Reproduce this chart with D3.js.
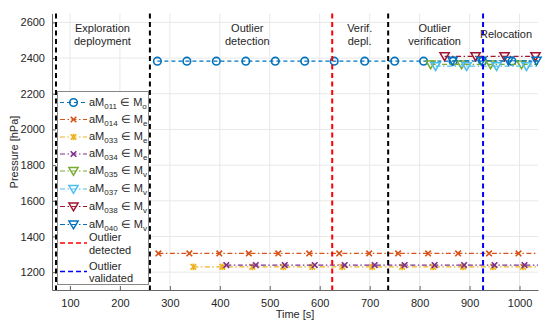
<!DOCTYPE html>
<html>
<head>
<meta charset="utf-8">
<script src="https://cdn.jsdelivr.net/npm/d3@7"></script>
<style>
  body { margin: 0; background: #fff; }
  svg { font-family: "Liberation Sans", Arial, sans-serif; }
</style>
</head>
<body>
<div id="chart"></div>
<script>
// series data: times [s] and pressures [hPa]
const t011 = [275, 334, 393, 452, 511, 570, 629, 690, 750, 808, 867, 926, 985, 1037];
const p011 = [2383, 2383, 2383, 2383, 2383, 2383, 2383, 2383, 2383, 2383, 2383, 2383, 2383, 2383];
const t014 = [277, 339, 399, 458, 517, 579, 639, 699, 757, 817, 877, 939, 998, 1037];
const p014 = [1305, 1305, 1305, 1305, 1305, 1305, 1305, 1305, 1305, 1305, 1305, 1305, 1305, 1305];
const t033 = [347, 405, 465, 527, 585, 645, 705, 765, 827, 887, 947, 1007, 1037];
const p033 = [1230, 1230, 1230, 1230, 1230, 1230, 1230, 1230, 1230, 1230, 1230, 1230, 1230];
const t034 = [413, 472, 530, 590, 650, 710, 770, 830, 889, 950, 1010, 1037];
const p034 = [1240, 1240, 1240, 1240, 1240, 1240, 1240, 1240, 1240, 1240, 1240, 1240];
const t035 = [822, 884, 942, 1004, 1037];
const p035 = [2365, 2365, 2365, 2365, 2365];
const t037 = [832, 894, 954, 1014, 1037];
const p037 = [2355, 2355, 2355, 2355, 2355];
const t038 = [850, 912, 970, 1032, 1037];
const p038 = [2410, 2410, 2410, 2410, 2410];
const t040 = [866, 924, 978, 1034, 1037];
const p040 = [2385, 2385, 2385, 2385, 2385];

const xTicks = [100, 200, 300, 400, 500, 600, 700, 800, 900, 1000];
const yTicks = [1200, 1400, 1600, 1800, 2000, 2200, 2400, 2600];

// phase boundaries
const phaseLines = [
  { t: 72, color: '#000' },
  { t: 260, color: '#000' },
  { t: 625, color: '#ff0000' },
  { t: 737, color: '#000' },
  { t: 927, color: '#0000ff' }
];
const phaseLabels = [
  { t: 165, lines: ['Exploration', 'deployment'] },
  { t: 455, lines: ['Outlier', 'detection'] },
  { t: 680, lines: ['Verif.', 'depl.'] },
  { t: 830, lines: ['Outlier', 'verification'] },
  { t: 973, lines: ['Relocation'] }
];

const series = [
  { id: '011', set: 'o', t: t011, p: p011, color: '#0072BD', marker: 'circle', dash: '4,3' },
  { id: '014', set: 'e', t: t014, p: p014, color: '#D95319', marker: 'x' },
  { id: '033', set: 'e', t: t033, p: p033, color: '#EDB120', marker: 'star' },
  { id: '034', set: 'e', t: t034, p: p034, color: '#7E2F8E', marker: 'x' },
  { id: '035', set: 'v', t: t035, p: p035, color: '#77AC30', marker: 'tri' },
  { id: '037', set: 'v', t: t037, p: p037, color: '#4DBEEE', marker: 'tri' },
  { id: '038', set: 'v', t: t038, p: p038, color: '#A2142F', marker: 'tri' },
  { id: '040', set: 'v', t: t040, p: p040, color: '#0072BD', marker: 'tri' }
];

const W = 550, H = 324;
const svg = d3.select('#chart').append('svg').attr('width', W).attr('height', H);

const x = d3.scaleLinear().domain([64, 1037]).range([52, 538]);
const y = d3.scaleLinear().domain([1100, 2650]).range([290, 13.5]);

const txt = '#262626';

// grid
svg.append('g').selectAll('line').data(xTicks).join('line')
  .attr('x1', d => x(d)).attr('x2', d => x(d))
  .attr('y1', y.range()[1]).attr('y2', y.range()[0])
  .attr('stroke', '#e8e8e8');
svg.append('g').selectAll('line').data(yTicks).join('line')
  .attr('x1', x.range()[0]).attr('x2', x.range()[1])
  .attr('y1', d => y(d)).attr('y2', d => y(d))
  .attr('stroke', '#e8e8e8');

// axes
const xAxis = d3.axisBottom(x).tickValues(xTicks).tickFormat(d3.format('d'))
  .tickSizeInner(-4).tickSizeOuter(0).tickPadding(9);
const yAxis = d3.axisLeft(y).tickValues(yTicks).tickFormat(d3.format('d'))
  .tickSizeInner(-4).tickSizeOuter(0).tickPadding(7);
const gx = svg.append('g').attr('transform', `translate(0,${y.range()[0]})`).call(xAxis);
const gy = svg.append('g').attr('transform', `translate(${x.range()[0]},0)`).call(yAxis);
[gx, gy].forEach(g => {
  g.select('.domain').attr('stroke', '#666');
  g.selectAll('.tick line').attr('stroke', '#666');
  g.selectAll('.tick text').attr('fill', txt).style('font-size', '11px')
    .style('font-family', '"Liberation Sans", Arial, sans-serif');
});

svg.append('text').attr('x', 295).attr('y', 318).attr('text-anchor', 'middle')
  .attr('fill', txt).style('font-size', '11px').text('Time [s]');
svg.append('text').attr('transform', 'translate(18,152) rotate(-90)').attr('text-anchor', 'middle')
  .attr('fill', txt).style('font-size', '11px').text('Pressure [hPa]');

// markers
function drawMarker(g, m, cx, cy, color) {
  if (m === 'circle') {
    g.append('circle').attr('cx', cx).attr('cy', cy).attr('r', 3.8)
      .attr('fill', 'none').attr('stroke', color).attr('stroke-width', 1.6);
  } else if (m === 'tri') {
    const s = 4.6;
    g.append('path')
      .attr('d', `M${cx - s},${cy - s * 0.75}L${cx + s},${cy - s * 0.75}L${cx},${cy + s * 0.95}Z`)
      .attr('fill', 'none').attr('stroke', color).attr('stroke-width', 1.5);
  } else {
    const s = 2.8;
    let d = `M${cx - s},${cy - s}L${cx + s},${cy + s}M${cx - s},${cy + s}L${cx + s},${cy - s}`;
    if (m === 'star') d += `M${cx},${cy - s * 1.2}L${cx},${cy + s * 1.2}`;
    g.append('path').attr('d', d).attr('fill', 'none').attr('stroke', color).attr('stroke-width', 1.6);
  }
}

const line = d3.line().x(d => x(d[0])).y(d => y(d[1]));
const plot = svg.append('g');
series.forEach(s => {
  const pts = s.t.map((t, i) => [t, s.p[i]]);
  plot.append('path').datum(pts).attr('d', line)
    .attr('fill', 'none').attr('stroke', s.color).attr('stroke-width', 1.2)
    .attr('stroke-dasharray', s.dash || '5,2.5,1.5,2.5');
  const mg = plot.append('g');
  // last point marks the line end at the axis limit, no marker there
  pts.slice(0, -1).forEach(d => drawMarker(mg, s.marker, x(d[0]), y(d[1]), s.color));
});

// phase boundary lines
svg.append('g').selectAll('line').data(phaseLines).join('line')
  .attr('x1', d => x(d.t)).attr('x2', d => x(d.t))
  .attr('y1', y.range()[1]).attr('y2', y.range()[0])
  .attr('stroke', d => d.color).attr('stroke-width', 2)
  .attr('stroke-dasharray', '5,3.5');

// phase labels
phaseLabels.forEach(p => {
  const t = svg.append('text').attr('text-anchor', 'middle').attr('fill', txt).style('font-size', '11px');
  const y0 = p.lines.length === 1 ? 38 : 32;
  p.lines.forEach((l, i) => t.append('tspan').attr('x', x(p.t)).attr('y', y0 + i * 13).text(l));
});

// legend
const lg = svg.append('g');
lg.append('rect').attr('x', 57.5).attr('y', 91.5).attr('width', 91).attr('height', 193)
  .attr('fill', '#fff').attr('stroke', '#888').attr('stroke-width', 1);
const rowY = [102.5, 119.5, 137, 154, 171, 189, 206.5, 224.5];
series.forEach((s, i) => {
  const ry = rowY[i];
  lg.append('line').attr('x1', 60).attr('x2', 87).attr('y1', ry).attr('y2', ry)
    .attr('stroke', s.color).attr('stroke-width', 1.2)
    .attr('stroke-dasharray', s.dash || '5,2.5,1.5,2.5');
  drawMarker(lg, s.marker, 73.5, ry, s.color);
  const t = lg.append('text').attr('x', 89).attr('y', ry + 3).attr('fill', txt).style('font-size', '11px');
  t.append('tspan').text('aM');
  t.append('tspan').attr('dy', 3).style('font-size', '8px').text(s.id);
  t.append('tspan').attr('dy', -3).text(' \u2208 M');
  t.append('tspan').attr('dy', 3).style('font-size', '8px').text(s.set);
});
[
  { color: '#ff0000', ly: 243, lines: ['Outlier', 'detected'], ty: 244 },
  { color: '#0000ff', ly: 271.5, lines: ['Outlier', 'validated'], ty: 272.5 }
].forEach(e => {
  lg.append('line').attr('x1', 60).attr('x2', 87).attr('y1', e.ly).attr('y2', e.ly)
    .attr('stroke', e.color).attr('stroke-width', 1.5).attr('stroke-dasharray', '5,3');
  const t = lg.append('text').attr('fill', txt).style('font-size', '11px');
  e.lines.forEach((l, i) => t.append('tspan').attr('x', 89).attr('y', e.ty - 3 + i * 12.5).text(l));
});
</script>
</body>
</html>
